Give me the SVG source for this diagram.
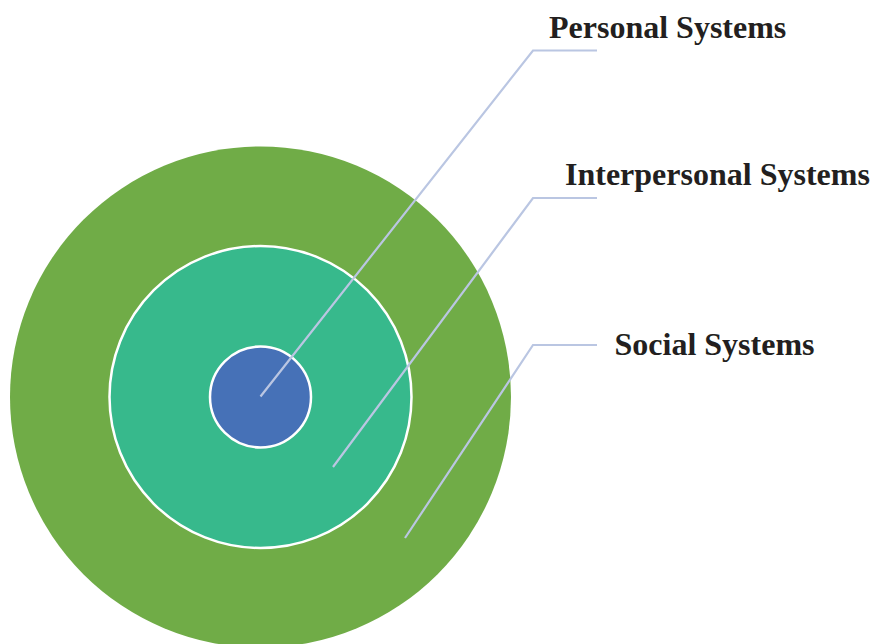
<svg xmlns="http://www.w3.org/2000/svg" width="871" height="644" viewBox="0 0 871 644">
<style>
.lbl{font-family:"Liberation Serif","Times New Roman",serif;font-weight:bold;font-size:32px;fill:#231f20}
.conn{fill:none;stroke:#bac6e2;stroke-width:2.2}
</style>
<rect width="871" height="644" fill="#ffffff"/>
<g id="social">
<circle cx="260.5" cy="397" r="250.5" fill="#70ac47"/>
</g>
<g id="interpersonal">
<circle cx="260.5" cy="397" r="151" fill="#37b98c" stroke="#ffffff" stroke-width="2.5"/>
</g>
<g id="personal">
<circle cx="260.5" cy="397" r="50.5" fill="#4671b7" stroke="#ffffff" stroke-width="2.5"/>
</g>
<g id="connectors">
<polyline class="conn" points="260.5,396.5 533,50.5 597,50.5"/>
<polyline class="conn" points="333,467 533,198 597,198"/>
<polyline class="conn" points="405,538 533,345 597,345"/>
</g>
<g id="labels">
<text class="lbl" x="549" y="37.5">Personal Systems</text>
<text class="lbl" x="565" y="184.5">Interpersonal Systems</text>
<text class="lbl" x="614.5" y="355">Social Systems</text>
</g>
</svg>
